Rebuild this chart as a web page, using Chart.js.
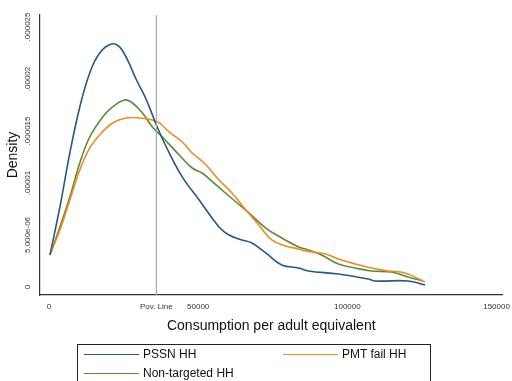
<!DOCTYPE html>
<html>
<head>
<meta charset="utf-8">
<script src="https://cdn.jsdelivr.net/npm/chart.js@4/dist/chart.umd.min.js"></script>
<style>
  body { margin: 0; background: #fff; }
  #wrap { position: relative; width: 512px; height: 381px; }
  #legend {
    position: absolute; left: 77px; top: 344px; width: 354px; height: 40px;
    border: 1px solid #222; box-sizing: border-box;
    font-family: "Liberation Sans", Arial, sans-serif; font-size: 12px; color: #111;
  }
  .item { position: absolute; height: 14px; line-height: 14px; white-space: nowrap; }
  .item span.ln { display: inline-block; width: 55px; height: 0; border-top: 1.6px solid; vertical-align: middle; margin-right: 4px; }
</style>
</head>
<body>
<div id="wrap">
  <canvas id="myChart" width="512" height="381"></canvas>
  <div id="legend"></div>
</div>
<script>
// kernel density estimates: [consumption, density]
var pssnX = [333, 3667, 7000, 10333, 13667, 17000, 21000, 23667, 26333, 29333, 32667, 36000, 39333, 44667, 50333, 57000, 60333, 64667, 68000, 72667, 78000, 83667, 87000, 97000, 107000, 109333, 120333, 126000];
var pssnY = [3.08e-6, 7.69e-6, 1.288e-5, 1.731e-5, 2.058e-5, 2.25e-5, 2.336e-5, 2.308e-5, 2.183e-5, 1.99e-5, 1.798e-5, 1.558e-5, 1.346e-5, 1.058e-5, 8.37e-6, 5.77e-6, 5.0e-6, 4.52e-6, 4.23e-6, 3.27e-6, 2.12e-6, 1.83e-6, 1.54e-6, 1.25e-6, 7.7e-7, 5.8e-7, 5.8e-7, 1.9e-7];

var pmtX = [333, 3667, 7000, 10333, 13667, 17000, 21333, 26000, 30333, 34667, 37000, 40333, 44667, 48000, 52667, 57000, 61333, 66000, 70333, 74667, 79333, 83667, 86000, 92667, 97000, 102667, 108000, 113667, 119333, 126000];
var pmtY = [3.08e-6, 5.48e-6, 8.37e-6, 1.125e-5, 1.337e-5, 1.462e-5, 1.577e-5, 1.625e-5, 1.625e-5, 1.606e-5, 1.577e-5, 1.49e-5, 1.394e-5, 1.288e-5, 1.173e-5, 1.029e-5, 9.04e-6, 7.4e-6, 5.96e-6, 4.52e-6, 3.94e-6, 3.65e-6, 3.46e-6, 3.17e-6, 2.69e-6, 2.21e-6, 1.83e-6, 1.54e-6, 1.35e-6, 4.8e-7];

var nonX = [333, 3667, 7000, 10333, 13667, 18000, 21333, 25333, 28000, 31333, 34667, 38000, 43667, 48000, 51333, 56000, 62667, 67000, 72667, 78000, 83667, 86000, 91333, 97000, 102667, 108000, 114667, 120333, 125333];
var nonY = [3.08e-6, 5.77e-6, 8.65e-6, 1.192e-5, 1.442e-5, 1.635e-5, 1.731e-5, 1.798e-5, 1.769e-5, 1.673e-5, 1.538e-5, 1.442e-5, 1.269e-5, 1.144e-5, 1.096e-5, 9.81e-6, 8.17e-6, 7.12e-6, 5.67e-6, 4.71e-6, 3.85e-6, 3.65e-6, 3.08e-6, 2.21e-6, 1.83e-6, 1.54e-6, 1.44e-6, 9.6e-7, 5.8e-7];

var povLine = 36000;
var xTicks = [0, povLine, 50000, 100000, 150000];
var xTickLabels = ["0", "Pov. Line", "50000", "100000", "150000"];
var yTicks = [0, 5e-6, 1e-5, 1.5e-5, 2e-5, 2.5e-5];
var yTickLabels = ["0", "5.000e-06", ".00001", ".000015", ".00002", ".000025"];
var seriesNames = ["PSSN HH", "PMT fail HH", "Non-targeted HH"];
var seriesColors = ["#2a5783", "#f08c1e", "#5b8a3a"];

var yMin = -7.7e-7, yMax = 2.615e-5;

function pts(xs, ys) {
  return xs.map(function (v, i) { return { x: v, y: ys[i] }; });
}

var font = "'Liberation Sans', Arial, sans-serif";

// y tick labels are drawn rotated and centred on their ticks, like Stata does
var yLabels = {
  id: "yLabels",
  afterDraw: function (chart) {
    var c = chart.ctx, sy = chart.scales.y;
    c.save();
    c.fillStyle = "#333";
    c.font = "8px " + font;
    c.textAlign = "center";
    c.textBaseline = "middle";
    yTicks.forEach(function (v, i) {
      c.save();
      c.translate(sy.right - 12, sy.getPixelForValue(v));
      c.rotate(-Math.PI / 2);
      c.fillText(yTickLabels[i], 0, 0);
      c.restore();
    });
    c.restore();
  }
};

var ctx = document.getElementById("myChart");
var myChart = new Chart(ctx, {
  type: "line",
  data: {
    datasets: [
      {
        label: "pov",
        data: [{ x: povLine, y: yMin }, { x: povLine, y: yMax }],
        borderColor: "#a8a8a8",
        borderWidth: 1.2,
        pointRadius: 0
      },
      {
        label: seriesNames[0],
        data: pts(pssnX, pssnY),
        borderColor: seriesColors[0],
        borderWidth: 1.6,
        pointRadius: 0,
        tension: 0.4
      },
      {
        label: seriesNames[1],
        data: pts(pmtX, pmtY),
        borderColor: seriesColors[1],
        borderWidth: 1.6,
        pointRadius: 0,
        tension: 0.4
      },
      {
        label: seriesNames[2],
        data: pts(nonX, nonY),
        borderColor: seriesColors[2],
        borderWidth: 1.6,
        pointRadius: 0,
        tension: 0.4
      }
    ]
  },
  plugins: [yLabels],
  options: {
    responsive: false,
    animation: false,
    layout: { padding: { top: 15, right: 7, bottom: 46, left: 0 } },
    plugins: { legend: { display: false }, tooltip: { enabled: false } },
    scales: {
      x: {
        type: "linear",
        min: -3000,
        max: 152000,
        afterBuildTicks: function (s) {
          s.ticks = xTicks.map(function (v) { return { value: v }; });
        },
        afterFit: function (s) { s.height = 40; },
        ticks: {
          autoSkip: false,
          maxRotation: 0,
          padding: 2,
          color: "#333",
          font: { family: font, size: 8 },
          callback: function (v) {
            var i = xTicks.indexOf(v);
            return i >= 0 ? xTickLabels[i] : "";
          }
        },
        grid: { display: false, drawOnChartArea: false, drawTicks: true, tickLength: 5, color: "#444" },
        border: { display: true, color: "#333", width: 1.2 },
        title: {
          display: true,
          text: "Consumption per adult equivalent",
          color: "#111",
          font: { family: font, size: 14 },
          padding: { top: 2, bottom: 0 }
        }
      },
      y: {
        type: "linear",
        min: yMin,
        max: yMax,
        afterBuildTicks: function (s) {
          s.ticks = yTicks.map(function (v) { return { value: v }; });
        },
        afterFit: function (s) { s.width = 40; },
        ticks: {
          autoSkip: false,
          color: "rgba(0,0,0,0)",
          font: { family: font, size: 8 },
          callback: function (v) {
            var i = yTicks.indexOf(v);
            return i >= 0 ? yTickLabels[i] : "";
          }
        },
        grid: { display: false, drawOnChartArea: false, drawTicks: true, tickLength: 5, color: "#444" },
        border: { display: true, color: "#333", width: 1.2 },
        title: {
          display: true,
          text: "Density",
          color: "#111",
          font: { family: font, size: 14 },
          padding: { top: 5, bottom: 0 }
        }
      }
    }
  }
});

// legend box below the chart
var leg = document.getElementById("legend");
var spots = [[6, 2], [205, 2], [6, 21]];
seriesNames.forEach(function (n, i) {
  var d = document.createElement("div");
  d.className = "item";
  d.style.left = spots[i][0] + "px";
  d.style.top = spots[i][1] + "px";
  d.innerHTML = '<span class="ln" style="border-color:' + seriesColors[i] + '"></span>' + n;
  leg.appendChild(d);
});
</script>
</body>
</html>
